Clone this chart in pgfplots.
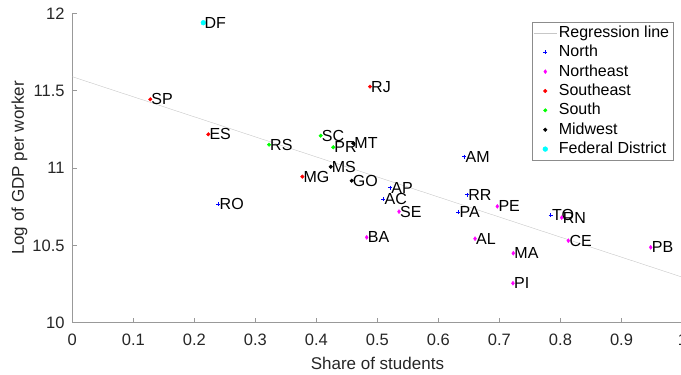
\documentclass[border=0pt]{standalone}
\usepackage{fontspec}
\setmainfont{Liberation Sans}
\usepackage{pgfplots}
\pgfplotsset{compat=1.18}
\definecolor{mblue}{rgb}{0,0,1}
\definecolor{mmag}{rgb}{1,0,1}
\definecolor{mred}{rgb}{1,0,0}
\definecolor{mgreen}{rgb}{0,1,0}
\definecolor{mcyan}{rgb}{0,1,1}
\pgfplotsset{
  lbl/.style={only marks, nodes near coords, point meta=explicit symbolic,
    nodes near coords style={anchor=west, text=black, inner sep=1pt, font=\fontsize{16}{18}\selectfont}},
}
\begin{document}
\fontsize{16.5}{19}\selectfont
\begin{tikzpicture}
\useasboundingbox (-72.3pt,-52.3pt) rectangle (608.7pt,322.7pt);
\clip (-72.3pt,-52.3pt) rectangle (608.7pt,322.7pt);
\begin{axis}[
  at={(0pt,0pt)}, anchor=south west,
  scale only axis, width=610.2pt, height=309.4pt,
  xmin=0, xmax=1, ymin=10, ymax=12,
  axis x line*=bottom, axis y line*=left,
  axis line style={draw=black!40, -},
  tick style={black!40, thin}, tick align=inside, major tick length=5pt,
  xtick={0,0.1,0.2,0.3,0.4,0.5,0.6,0.7,0.8,0.9,1},
  xticklabels={0,0.1,0.2,0.3,0.4,0.5,0.6,0.7,0.8,0.9,1},
  ytick={10,10.5,11,11.5,12},
  yticklabels={10,10.5,11,11.5,12},
  tick label style={font=\fontsize{16.5}{19}\selectfont, text=black!85},
  xticklabel style={yshift=-6pt},
  yticklabel style={xshift=-2pt},
  /pgf/number format/assume math mode=true,
  xlabel={Share of students}, ylabel={Log of GDP per worker},
  label style={font=\fontsize{17}{19}\selectfont, text=black!85},
  xlabel style={yshift=0pt}, ylabel style={yshift=-6pt},
  clip=false,
  legend image code/.code={\draw[mark repeat=2,mark phase=2,#1] plot coordinates {(0cm,0cm) (0.4cm,0cm) (0.8cm,0cm)};},
  legend style={at={(0.985,0.973)}, anchor=north east, draw=black!45,
    font=\fontsize{16}{18}\selectfont, row sep=1.3pt, inner sep=2pt},
  legend cell align=left,
]
\addplot[black!22, thin] coordinates {(0,11.590) (1,10.294)};
\addlegendentry{Regression line}
\addplot[lbl, mark=+, mblue, mark size=2pt, mark options={line width=0.8pt, draw=mblue}] table[meta=label] {
x y label
0.2393 10.767 RO
0.5097 10.798 AC
0.6424 11.073 AM
0.6468 10.827 RR
0.6326 10.716 PA
0.5207 10.873 AP
0.7840 10.696 TO
};
\addlegendentry{North}
\addplot[lbl, mark=diamond*, mmag, mark size=2pt] table[meta=label] {
x y label
0.7227 10.449 MA
0.7222 10.255 PI
0.8129 10.530 CE
0.8020 10.679 RN
0.9479 10.487 PB
0.6965 10.752 PE
0.6600 10.543 AL
0.5354 10.718 SE
0.4825 10.552 BA
};
\addlegendentry{Northeast}
\addplot[lbl, mark=*, mred, mark size=1.8pt] table[meta=label] {
x y label
0.3770 10.944 MG
0.2229 11.218 ES
0.4879 11.526 RJ
0.1278 11.444 SP
};
\addlegendentry{Southeast}
\addplot[lbl, mark=*, mgreen, mark size=1.8pt] table[meta=label] {
x y label
0.4277 11.134 PR
0.4071 11.209 SC
0.3224 11.151 RS
};
\addlegendentry{South}
\addplot[lbl, mark=*, black, mark size=1.8pt] table[meta=label] {
x y label
0.4235 11.008 MS
0.4605 11.160 MT
0.4579 10.918 GO
};
\addlegendentry{Midwest}
\addplot[lbl, mark=*, mcyan, mark size=2.4pt] table[meta=label] {
x y label
0.2147 11.939 DF
};
\addlegendentry{Federal District}
\end{axis}
\end{tikzpicture}
\end{document}
